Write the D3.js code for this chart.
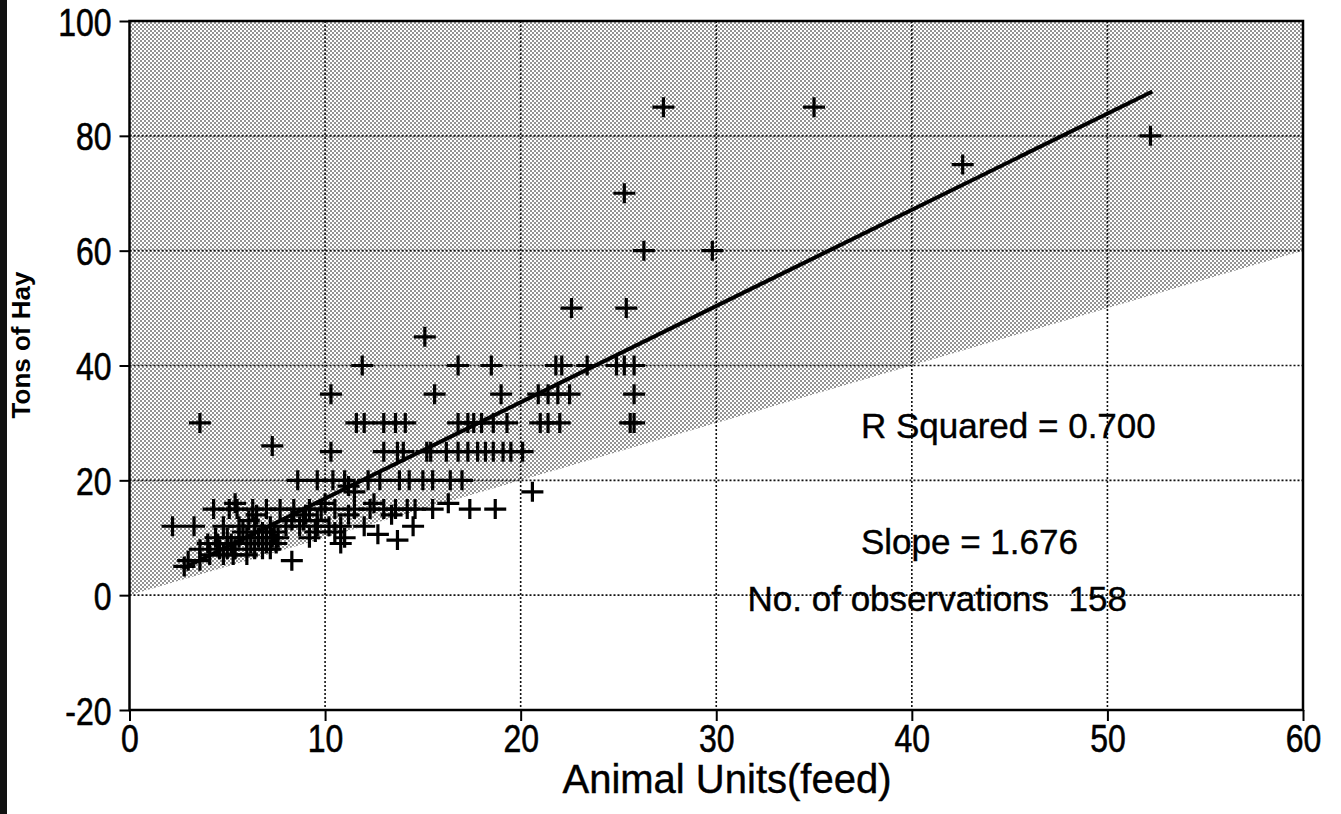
<!DOCTYPE html>
<html>
<head>
<meta charset="utf-8">
<script src="https://cdn.jsdelivr.net/npm/d3@7"></script>
<style>
  html, body { margin: 0; padding: 0; background: #fff; }
  svg { display: block; font-family: "Liberation Sans", Arial, Helvetica, sans-serif; }
</style>
</head>
<body>
<svg id="chart" width="1341" height="814"></svg>
<script>
// axis ticks
const xTicks = [0, 10, 20, 30, 40, 50, 60];
const yTicks = [-20, 0, 20, 40, 60, 80, 100];

// observations: animal units (feed) vs tons of hay
const animalUnits = [
  27.3, 35.0, 52.2, 42.6, 25.3, 26.3, 29.8, 22.6, 25.4, 15.1,
  11.9, 16.8, 18.5, 21.8, 22.1, 23.4, 24.9, 25.3, 25.8,
  10.3, 15.6, 19.0, 20.9, 21.4, 21.9, 22.5, 25.8,
  3.6, 11.6, 12.0, 13.0, 13.6, 14.1, 16.8, 17.3, 17.6, 18.0, 18.6, 19.3, 21.0, 21.4, 22.0, 25.6, 25.8,
  7.3,
  10.3, 13.0, 13.7, 14.0, 15.2, 15.4, 16.2, 16.8, 17.3, 17.8, 18.2, 18.6, 19.1, 19.5, 20.1,
  8.6, 9.6, 10.4, 11.0, 12.2, 12.8, 13.8, 14.3, 15.0, 15.5, 16.4, 17.0,
  17.4, 18.7, 20.6,
  4.3, 5.1, 5.5, 6.3, 7.0, 7.7, 8.4, 9.2, 9.8, 10.5, 11.5, 12.3, 13.0, 13.6, 14.2, 14.6, 15.5,
  5.4, 10.0, 16.3,
  2.2, 3.3, 4.8, 5.6, 6.4, 7.2, 8.0, 8.7, 9.6, 10.2, 10.8, 12.0, 14.5,
  12.7, 10.5, 9.5, 6.8, 7.4,
  4.4, 5.0, 5.6, 6.0, 6.6, 7.0, 7.3, 7.6, 9.2, 11.0, 13.7,
  4.5, 5.2, 6.2, 7.0, 7.5, 10.8,
  3.6, 4.6, 5.0, 5.4, 6.4, 6.8, 7.2,
  4.1, 4.8, 5.3, 6.0,
  3.6, 8.3,
  2.8,
  6.5, 11.2, 13.4,
  8.3, 8.9, 9.6,
  11.2, 11.5,
  3.0, 4.0, 5.8, 6.1, 9.0, 12.5
];
const tonsOfHay = [
  85, 85, 80, 75, 70, 60, 60, 50, 50, 45,
  40, 40, 40, 40, 40, 40, 40, 40, 40,
  35, 35, 35, 35, 35, 35, 35, 35,
  30, 30, 30, 30, 30, 30, 30, 30, 30, 30, 30, 30, 30, 30, 30, 30, 30,
  26,
  25, 25, 25, 25, 25, 25, 25, 25, 25, 25, 25, 25, 25, 25, 25,
  20, 20, 20, 20, 20, 20, 20, 20, 20, 20, 20, 20,
  15, 15, 18,
  15, 15, 15, 15, 15, 15, 15, 15, 15, 15, 15, 15, 15, 15, 15, 15, 15,
  16, 16, 16,
  12, 12, 12, 12, 12, 12, 12, 12, 12, 12, 12, 12, 12,
  10.6, 11, 11, 11, 11,
  10, 10, 10, 10, 10, 10, 10, 10, 10, 10, 9.6,
  9, 9, 9, 9, 9, 9,
  8, 8, 8, 8, 8, 8, 8,
  7, 7, 7, 7,
  6, 6,
  5,
  14, 14, 14,
  13, 13, 13,
  19, 18,
  6, 9, 11, 13, 14, 16
];

// fitted line
const slope = 1.676;
const intercept = 0.07;
const fitRange = [2.7, 52.3];

const annotations = ["R Squared = 0.700", "Slope = 1.676", "No. of observations  158"];
const xLabel = "Animal Units(feed)";
const yLabel = "Tons of Hay";

const svg = d3.select("#chart");

const x = d3.scaleLinear().domain([0, 60]).range([129.5, 1303]);
const y = d3.scaleLinear().domain([-20, 100]).range([710, 21]);

// scan edge on the far left
svg.append("rect").attr("x", 0).attr("y", 0).attr("width", 7).attr("height", 814).attr("fill", "#111");

// stipple pattern for the shaded area
const defs = svg.append("defs");
const pat = defs.append("pattern")
  .attr("id", "stipple")
  .attr("patternUnits", "userSpaceOnUse")
  .attr("width", 4).attr("height", 4);
pat.append("rect").attr("width", 4).attr("height", 4).attr("fill", "#fff");
pat.append("rect").attr("x", 0).attr("y", 0).attr("width", 2).attr("height", 2).attr("fill", "#939393");
pat.append("rect").attr("x", 2).attr("y", 2).attr("width", 2).attr("height", 2).attr("fill", "#939393");

// region above y = x
const shadePts = [[0, 0], [60, 60], [60, 100], [0, 100]];
svg.append("path")
  .attr("d", d3.line().x(d => x(d[0])).y(d => y(d[1]))(shadePts) + "Z")
  .attr("fill", "url(#stipple)");

// grid lines
const grid = svg.append("g").attr("class", "grid");
grid.selectAll(".vg")
  .data(xTicks.filter(t => t > 0 && t < 60))
  .join("line")
  .attr("x1", d => x(d)).attr("x2", d => x(d))
  .attr("y1", y(100)).attr("y2", y(-20))
  .attr("stroke", "#111").attr("stroke-width", 1.6).attr("stroke-dasharray", "2,2");
grid.selectAll(".hg")
  .data(yTicks.filter(t => t > -20 && t < 100))
  .join("line")
  .attr("x1", x(0)).attr("x2", x(60))
  .attr("y1", d => y(d)).attr("y2", d => y(d))
  .attr("stroke", "#111").attr("stroke-width", 1.6).attr("stroke-dasharray", "2,2");

// axes
const labelScale = 0.82;
const xAxis = svg.append("g")
  .attr("transform", `translate(0,${y(-20)})`)
  .call(d3.axisBottom(x).tickValues(xTicks).tickFormat(d => String(d)).tickSize(11).tickPadding(3));
const yAxis = svg.append("g")
  .attr("transform", `translate(${x(0)},0)`)
  .call(d3.axisLeft(y).tickValues(yTicks).tickFormat(d => String(d)).tickSize(10).tickPadding(8));

[xAxis, yAxis].forEach(a => {
  a.select(".domain").remove();
  a.selectAll(".tick line").attr("stroke", "#000").attr("stroke-width", 2);
  a.selectAll(".tick text")
    .attr("fill", "#000")
    .attr("stroke", "#000")
    .attr("stroke-width", 0.6)
    .attr("font-size", "39px")
    .attr("font-family", "'Liberation Sans', Arial, sans-serif");
});
xAxis.selectAll(".tick text")
  .attr("transform", `scale(${labelScale},1)`);
yAxis.selectAll(".tick text")
  .attr("transform", `scale(${labelScale},1)`)
  .attr("x", -18 / labelScale)
  .attr("dy", "0.36em");

// frame
svg.append("rect")
  .attr("x", x(0)).attr("y", y(100))
  .attr("width", x(60) - x(0)).attr("height", y(-20) - y(100))
  .attr("fill", "none").attr("stroke", "#000").attr("stroke-width", 2.5);

// regression line
svg.append("line")
  .attr("x1", x(fitRange[0])).attr("y1", y(intercept + slope * fitRange[0]))
  .attr("x2", x(fitRange[1])).attr("y2", y(intercept + slope * fitRange[1]))
  .attr("stroke", "#000").attr("stroke-width", 4);

// points
const points = animalUnits.map((u, i) => ({ u: u, t: tonsOfHay[i] }));
svg.append("g")
  .selectAll("path")
  .data(points)
  .join("path")
  .attr("transform", d => `translate(${x(d.u)},${y(d.t)})`)
  .attr("d", "M-11,0H11M0,-10V10")
  .attr("stroke", "#000")
  .attr("stroke-width", 3.2)
  .attr("fill", "none");

// annotations
const annoPos = [[37.4, 29.6], [37.4, 9.4], [31.6, -0.5]];
svg.append("g")
  .selectAll("text")
  .data(annotations)
  .join("text")
  .attr("x", (d, i) => x(annoPos[i][0]))
  .attr("y", (d, i) => y(annoPos[i][1]))
  .attr("dy", "0.36em")
  .attr("font-size", "35px")
  .attr("fill", "#000")
  .attr("stroke", "#000")
  .attr("stroke-width", 0.4)
  .style("white-space", "pre")
  .text(d => d);

// axis titles
svg.append("text")
  .attr("x", 727).attr("y", 793)
  .attr("text-anchor", "middle")
  .attr("font-size", "40px")
  .attr("fill", "#000")
  .attr("stroke", "#000")
  .attr("stroke-width", 0.4)
  .text(xLabel);

svg.append("text")
  .attr("transform", "translate(30,345) rotate(-90)")
  .attr("text-anchor", "middle")
  .attr("font-size", "26px")
  .attr("font-weight", "bold")
  .attr("fill", "#000")
  .text(yLabel);
</script>
</body>
</html>
